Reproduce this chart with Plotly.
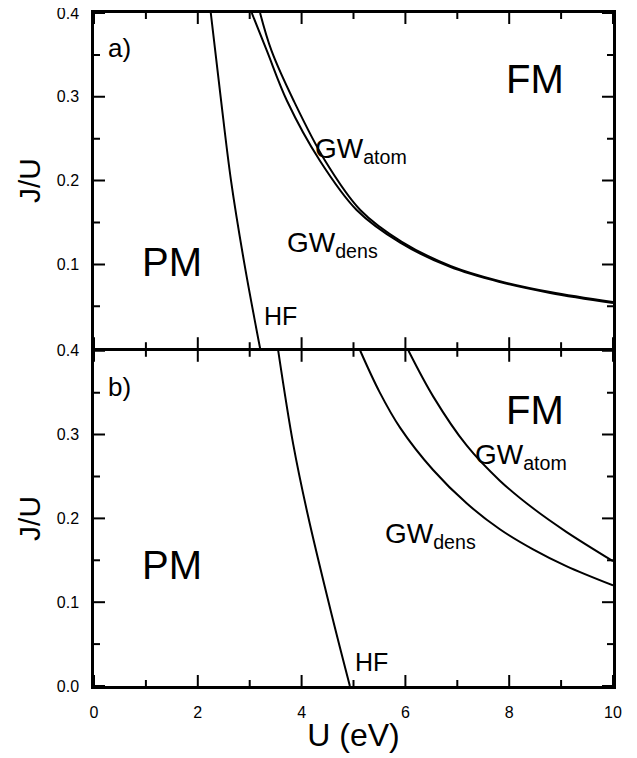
import plotly.graph_objects as go

# Panel a) phase boundaries (U in eV, J/U)
hf_a_U = [2.25, 2.44, 2.64, 2.90, 3.20]
hf_a_JU = [0.40, 0.30, 0.20, 0.10, 0.00]

dens_a_U = [3.04, 3.33, 3.72, 4.35, 5.06, 5.90, 6.86, 7.82, 8.79, 10.0]
dens_a_JU = [0.40, 0.355, 0.295, 0.224, 0.165, 0.126, 0.097, 0.079, 0.066, 0.054]

atom_a_U = [3.20, 3.42, 3.85, 4.45, 5.13, 5.93, 6.88, 7.82, 8.79, 10.0]
atom_a_JU = [0.40, 0.355, 0.295, 0.224, 0.165, 0.127, 0.098, 0.080, 0.067, 0.055]

# Panel b)
hf_b_U = [3.55, 3.84, 4.12, 4.58, 4.93]
hf_b_JU = [0.40, 0.288, 0.204, 0.085, 0.00]

dens_b_U = [5.13, 5.50, 5.90, 6.53, 7.18, 7.82, 8.46, 9.10, 10.0]
dens_b_JU = [0.40, 0.351, 0.308, 0.258, 0.218, 0.187, 0.163, 0.143, 0.120]

atom_b_U = [6.06, 6.54, 7.18, 7.82, 8.46, 9.10, 10.0]
atom_b_JU = [0.40, 0.345, 0.287, 0.245, 0.212, 0.184, 0.149]

# axis ticks
x_major = [0, 2, 4, 6, 8, 10]
x_minor = [1, 3, 5, 7, 9]
y_major_a = [0.1, 0.2, 0.3, 0.4]
y_major_b = [0.0, 0.1, 0.2, 0.3, 0.4]
y_minor = [0.05, 0.15, 0.25, 0.35]

FONT = "Liberation Sans, Arial, Helvetica, sans-serif"
LW = 2
MAJ_LEN = 11
MIN_LEN = 6

fig = go.Figure()

def add_line(xs, ys, xa, ya):
    fig.add_trace(go.Scatter(x=xs, y=ys, mode="lines", xaxis=xa, yaxis=ya,
                             line=dict(color="black", width=LW, shape="spline", smoothing=1.0),
                             showlegend=False, hoverinfo="skip"))

add_line(hf_a_U, hf_a_JU, "x", "y")
add_line(dens_a_U, dens_a_JU, "x", "y")
add_line(atom_a_U, atom_a_JU, "x", "y")
add_line(hf_b_U, hf_b_JU, "x2", "y2")
add_line(dens_b_U, dens_b_JU, "x2", "y2")
add_line(atom_b_U, atom_b_JU, "x2", "y2")

base = dict(showgrid=False, zeroline=False, automargin=False, fixedrange=True,
            showline=True, linecolor="black", linewidth=2.5, mirror=True, ticks="",
            tickfont=dict(family=FONT, size=16, color="black"))

GAP = 0.0019
XR = [0, 10]
YR = [0, 0.4]

fig.update_layout(
    width=629, height=750,
    margin=dict(l=86, r=24, t=5, b=72),
    paper_bgcolor="white", plot_bgcolor="white",
    font=dict(family=FONT, color="black"),
    showlegend=False,
    xaxis=dict(base, domain=[0, 1], range=XR, tickvals=x_major,
               showticklabels=False, anchor="y"),
    yaxis=dict(base, domain=[0.5 + GAP, 1], range=YR, tickvals=y_major_a,
               tickformat=".1f", anchor="x", ticklabelstandoff=9,
               ticklabeloverflow="allow",
               title=dict(text="J/U", font=dict(family=FONT, size=30), standoff=8)),
    xaxis2=dict(base, domain=[0, 1], range=XR, tickvals=x_major,
                anchor="y2", ticklabelstandoff=10, tickformat="d",
                ticklabeloverflow="allow",
                title=dict(text="U (eV)", font=dict(family=FONT, size=32), standoff=4)),
    yaxis2=dict(base, domain=[0, 0.5 - GAP], range=YR, tickvals=y_major_b,
                tickformat=".1f", anchor="x2", ticklabelstandoff=9,
                ticklabeloverflow="allow",
                title=dict(text="J/U", font=dict(family=FONT, size=30), standoff=8)),
)

# inside ticks on all four sides, positioned through the axes' own scales
tick_line = dict(color="black", width=2)
for xa, ya, ymaj in [("x", "y", y_major_a), ("x2", "y2", y_major_b)]:
    for vals, ln in [(x_major, MAJ_LEN), (x_minor, MIN_LEN)]:
        for v in vals:
            for anchor, sgn in [(0, 1), (1, -1)]:
                fig.add_shape(type="line", xref=xa, yref=f"{ya} domain",
                              x0=v, x1=v, ysizemode="pixel", yanchor=anchor,
                              y0=0, y1=sgn * ln, line=tick_line, layer="above")
    for vals, ln in [(ymaj, MAJ_LEN), (y_minor, MIN_LEN)]:
        for v in vals:
            for anchor, sgn in [(0, 1), (1, -1)]:
                fig.add_shape(type="line", yref=ya, xref=f"{xa} domain",
                              y0=v, y1=v, xsizemode="pixel", xanchor=anchor,
                              x0=0, x1=sgn * ln, line=tick_line, layer="above")

def ann(text, x, y, xr, yr, size, xanchor="center", yanchor="middle", yshift=0):
    fig.add_annotation(text=text, x=x, y=y, xref=xr, yref=yr, showarrow=False,
                       xanchor=xanchor, yanchor=yanchor, yshift=yshift,
                       font=dict(family=FONT, size=size, color="black"))

# Panel a
ann("a)", 0.50, 0.358, "x", "y", 26)
ann("PM", 1.50, 0.103, "x", "y", 40)
ann("FM", 8.50, 0.321, "x", "y", 40)
ann("GW<sub>atom</sub>", 4.22, 0.241, "x", "y", 28, xanchor="left", yshift=-4)
ann("GW<sub>dens</sub>", 3.68, 0.128, "x", "y", 28, xanchor="left", yshift=-4)
ann("HF", 3.24, 0.039, "x", "y", 25, xanchor="left")
# Panel b
ann("b)", 0.50, 0.357, "x2", "y2", 26)
ann("PM", 1.50, 0.1445, "x2", "y2", 40)
ann("FM", 8.50, 0.3296, "x2", "y2", 40)
ann("GW<sub>atom</sub>", 7.30, 0.279, "x2", "y2", 28, xanchor="left", yshift=-4)
ann("GW<sub>dens</sub>", 5.57, 0.184, "x2", "y2", 28, xanchor="left", yshift=-4)
ann("HF", 4.99, 0.0287, "x2", "y2", 25, xanchor="left")

fig.write_html("out.html")
